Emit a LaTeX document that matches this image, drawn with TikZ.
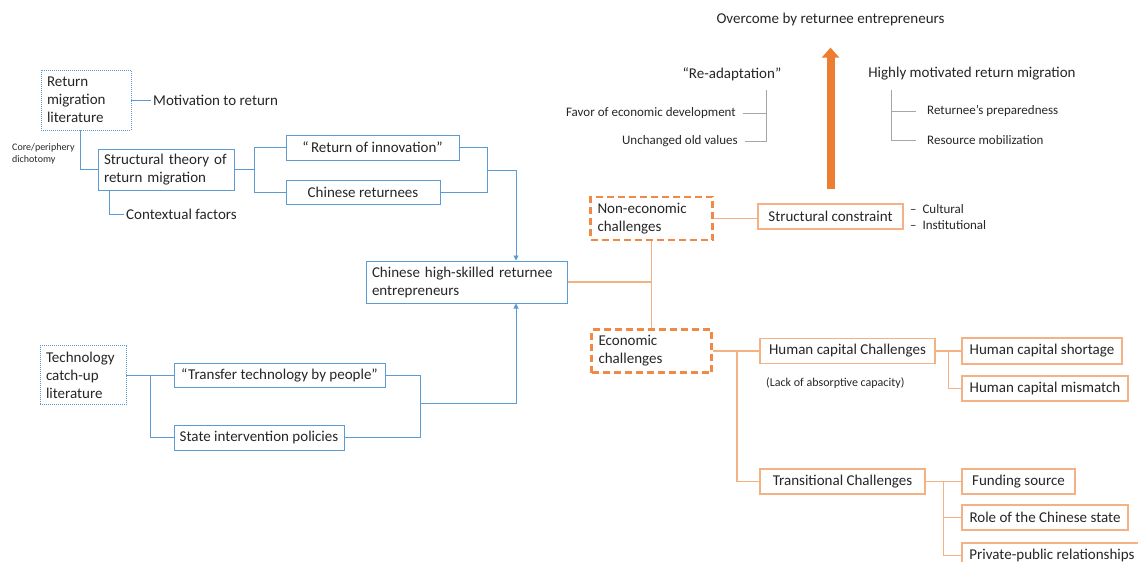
\documentclass[tikz,border=0pt]{standalone}
\usepackage{fontspec}
\setmainfont{Carlito}
\usetikzlibrary{arrows.meta,calc}
\definecolor{bl}{HTML}{5B9BD5}
\definecolor{orD}{HTML}{ED7D31}
\definecolor{orL}{HTML}{F4B183}
\definecolor{gr}{HTML}{A6A6A6}
\definecolor{tx}{HTML}{262626}
\begin{document}
\begin{tikzpicture}[x=1pt,y=-1pt,
 every node/.style={text=tx, font=\fontsize{15}{18}\selectfont},
 bbox/.style={draw=bl, line width=1pt, fill=white, inner sep=0pt},
 dbox/.style={draw=bl, line width=0.9pt, dash pattern=on 1pt off 1pt, fill=white, inner sep=0pt},
 obox/.style={draw=orL, line width=1.5pt, fill=white, inner sep=0pt},
 dobox/.style={draw=orD!90, line width=2.6pt, dash pattern=on 7pt off 4pt, fill=white, inner sep=0pt},
 bline/.style={draw=bl, line width=0.9pt},
 oline/.style={draw=orL, line width=1.4pt},
 gline/.style={draw=gr, line width=0.9pt},
 txt/.style={inner sep=2pt},
 smalltxt/.style={inner sep=2pt, font=\fontsize{13}{16}\selectfont},
 tinytxt/.style={inner sep=0pt, align=left, font=\fontsize{10}{12}\selectfont},
 barrow/.style={-{Triangle[length=5pt,width=5pt]}},
]
\useasboundingbox (0,0) rectangle (1138,562);
\clip (0,0) rectangle (1138,562);

% ---------- left, top ----------
\node[dbox, minimum width=90pt, minimum height=60pt, text width=78pt, align=left] (ret) at (86,100) {Return\\migration\\literature};
\node[txt, anchor=west] (mot) at (151,100) {Motivation to return};
\node[tinytxt, anchor=west] (core) at (12,154) {Core/periphery\\dichotomy};
\node[bbox, minimum width=136pt, minimum height=41pt, text width=124pt, align=left] (struct) at (166,169.5) {Structural theory of\\return migration};
\node[txt, anchor=west] (ctx) at (124,214) {Contextual factors};
\node[bbox, minimum width=173pt, minimum height=25pt] (roi) at (372.5,147.5) {“\,Return of innovation”};
\node[bbox, minimum width=154pt, minimum height=24pt] (cr) at (363,192) {Chinese returnees};
\node[bbox, minimum width=201pt, minimum height=42pt, text width=189pt, align=left] (ent) at (466.5,282) {Chinese high-skilled returnee\\entrepreneurs};

\draw[bline] (ret.east) -- (mot.west);
\draw[bline] ([xshift=-6pt]ret.south) |- (struct.west);
\draw[bline] ([xshift=12pt]struct.south west) |- (ctx.west);
\draw[bline] (struct.east) -- ([xshift=20pt]struct.east);
\draw[bline] ([xshift=20pt]struct.east) |- (roi.west);
\draw[bline] ([xshift=20pt]struct.east) |- (cr.west);
\coordinate (j1) at (487,170);
\draw[bline] (roi.east) -| (j1);
\draw[bline] (cr.east) -| (j1);
\draw[bline, barrow] (j1) -| ([xshift=49.5pt]ent.north);

% ---------- left, bottom ----------
\node[dbox, minimum width=86pt, minimum height=59pt, text width=74pt, align=left] (tech) at (83,375) {Technology\\catch-up\\literature};
\node[bbox, minimum width=211pt, minimum height=24pt] (ttp) at (279.5,375) {“Transfer technology by people”};
\node[bbox, minimum width=170pt, minimum height=25pt] (sip) at (259,437.5) {State intervention policies};
\draw[bline] (tech.east) -- (ttp.west);
\draw[bline] ([xshift=24pt]tech.east) |- (sip.west);
\coordinate (j2) at (420,403);
\draw[bline] (ttp.east) -| (j2);
\draw[bline] (sip.east) -| (j2);
\draw[bline, barrow] (j2) -| ([xshift=49.5pt]ent.south);

% ---------- right, top ----------
\node[txt] (ov) at (830.5,20) {Overcome by returnee entrepreneurs};
\node[txt] (ra) at (732,74) {“Re-adaptation”};
\node[txt] (hm) at (972,74) {Highly motivated return migration};
\node[smalltxt, anchor=east] (fav) at (738,113) {Favor of economic development};
\node[smalltxt, anchor=east] (unc) at (740,141) {Unchanged old values};
\node[smalltxt, anchor=west] (rp) at (925,111) {Returnee’s preparedness};
\node[smalltxt, anchor=west] (rm) at (925,140) {Resource mobilization};
\coordinate (b1) at (766,90);
\coordinate (b2) at (891,90);
\draw[gline, shorten >=5pt] (b1) |- (unc.east);
\draw[gline, shorten >=5pt] (fav.east -| b1) -- (fav.east);
\draw[gline, shorten >=9pt] (b2) |- (rm.west);
\draw[gline, shorten >=9pt] (rp.west -| b2) -- (rp.west);

\node[dobox, minimum width=122pt, minimum height=43pt, text width=108pt, align=left] (neb) at (651.5,218.5) {Non-economic\\challenges};
\node[obox, minimum width=145pt, minimum height=25pt] (sc) at (830.5,216.5) {Structural constraint};
\node[smalltxt, anchor=west] (cult) at (908,209) {–\ \ Cultural};
\node[smalltxt, anchor=west] (inst) at (908,225) {–\ \ Institutional};
\draw[orD, line width=8pt, -{Triangle[length=10pt,width=17pt]}] ([yshift=14pt]sc.north) -- ([yshift=-19pt]ov.south);
\draw[oline] (neb.east) -- (neb.east -| sc.west);

% ---------- right, bottom ----------
\node[dobox, minimum width=120pt, minimum height=43pt, text width=106pt, align=left] (eb) at (651.5,351) {Economic\\challenges};
\draw[oline] (neb.south) -- (eb.north);
\draw[oline] (ent.east) -- (ent.east -| neb.south);

\node[obox, minimum width=175pt, minimum height=25pt] (hcc) at (847.5,351) {Human capital Challenges};
\node[inner sep=0pt, anchor=west, font=\fontsize{12}{14}\selectfont] (lac) at (766,383) {(Lack of absorptive capacity)};
\node[obox, minimum width=165pt, minimum height=25pt] (tc) at (842.5,481.5) {Transitional Challenges};
\node[obox, minimum width=160pt, minimum height=26pt] (hcs) at (1042,351) {Human capital shortage};
\node[obox, minimum width=166pt, minimum height=25pt] (hcm) at (1045,388.5) {Human capital mismatch};
\node[obox, minimum width=113pt, minimum height=25pt] (fs) at (1018.5,481.5) {Funding source};
\node[obox, minimum width=166pt, minimum height=25pt] (rcs) at (1045,517.5) {Role of the Chinese state};
\node[obox, minimum width=180pt, minimum height=25pt] (ppr) at (1052,555.5) {Private-public relationships};

\draw[oline] (eb.east) -- (hcc.west);
\draw[oline] ([xshift=24pt]eb.east) |- (tc.west);
\draw[oline] (hcc.east) -- (hcs.west);
\draw[oline] ([xshift=13pt]hcc.east) |- (hcm.west);
\draw[oline] (tc.east) -- (fs.west);
\draw[oline] ([xshift=18pt]tc.east) |- (rcs.west);
\draw[oline] ([xshift=18pt]tc.east) |- (ppr.west);
\end{tikzpicture}
\end{document}
